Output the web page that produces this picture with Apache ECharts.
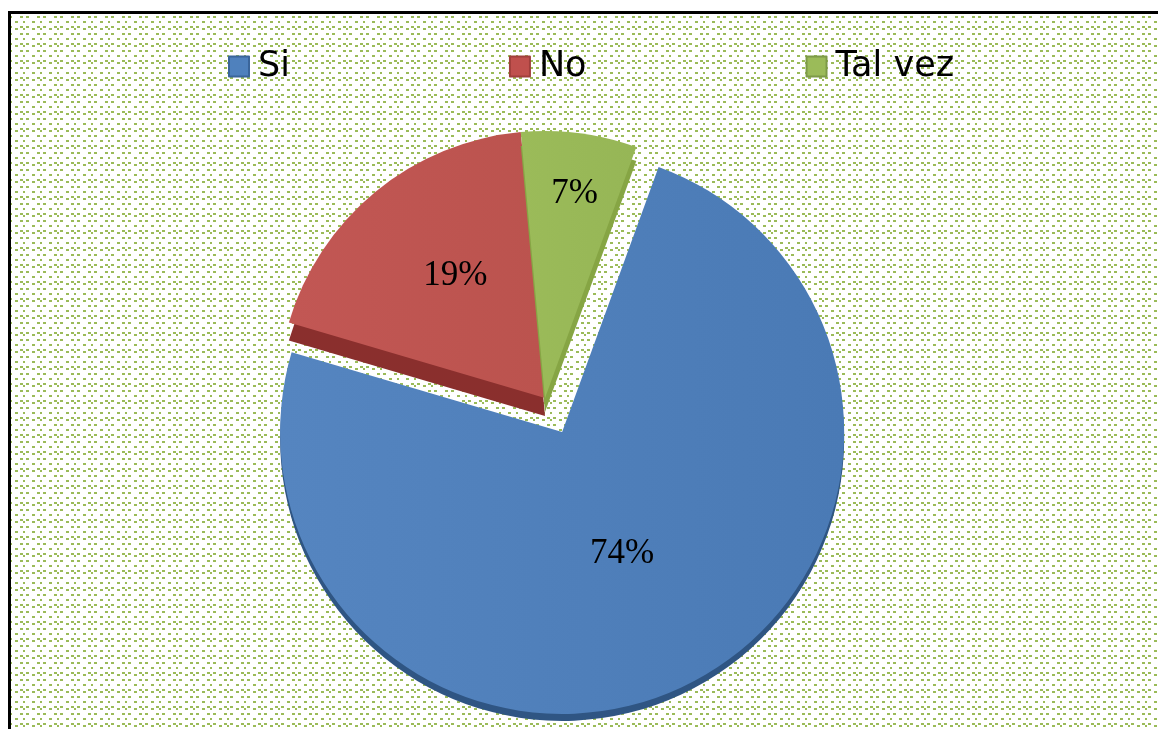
<!DOCTYPE html>
<html>
<head>
<meta charset="utf-8">
<style>
  html, body { margin: 0; padding: 0; background: #fff; }
  #frame { position: absolute; left: 8px; top: 11px; width: 1150px; height: 718px; border-left: 3px solid #000; border-top: 3px solid #000; box-sizing: border-box; }
  #main { width: 1147px; height: 715px; }
</style>
</head>
<body>
<div id="frame"><div id="main"></div></div>
<script src="https://cdn.jsdelivr.net/npm/echarts@6/dist/echarts.min.js"></script>
<script>
const categories = ['Si', 'No', 'Tal vez']
const values = [74, 19, 7]
const colors = ['#4f81bd', '#c0504d', '#9bbb59']
const legendBorders = ['#3a659a', '#a03f3c', '#7d9a48']
const gradients = [['#5585c0', '#4a7ab5'], ['#c25754', '#bb534e'], ['#9bbb59', '#96b656']]
const sideColors = ['#2f5583', '#8a2f2d', '#86a544']

// dotted paper behind the chart
function dotTile () {
  let tile = document.createElement('canvas')
  tile.width = 17
  tile.height = 17
  let ctx = tile.getContext('2d')
  ctx.fillStyle = '#fff'
  ctx.fillRect(0, 0, 17, 17)
  ctx.fillStyle = '#9bbb59'
  ctx.fillRect(9, 2, 3, 2)
  ctx.fillRect(15, 2, 2, 2)
  ctx.fillRect(0, 2, 1, 2)
  ctx.fillRect(4, 7, 3, 2)
  ctx.fillRect(12, 7, 2, 2)
  ctx.fillRect(9, 12, 3, 2)
  ctx.fillRect(15, 12, 2, 2)
  ctx.fillRect(0, 12, 1, 2)
  ctx.fillRect(4, 14, 3, 2)
  ctx.fillRect(12, 14, 2, 2)
  return tile
}

function sliceStyle (i, sideY) {
  return {
    color: new echarts.graphic.LinearGradient(0, 0, 1, 0, [
      {offset: 0, color: gradients[i][0]},
      {offset: 1, color: gradients[i][1]}
    ]),
    shadowColor: sideColors[i],
    shadowBlur: 0,
    shadowOffsetY: sideY
  }
}

function percentLabel (p) {
  return p.value + '%'
}

const labelStyle = {position: 'inside', fontFamily: 'Liberation Serif', fontSize: 35, color: '#000', formatter: percentLabel}

const hidden = {
  itemStyle: {color: 'transparent'},
  label: {show: false},
  labelLine: {show: false},
  emphasis: {disabled: true}
}

let chart = echarts.init(document.getElementById('main'))

chart.setOption({
  animation: false,
  backgroundColor: {image: dotTile(), repeat: 'repeat'},
  legend: {
    left: 212,
    top: 30,
    itemWidth: 20,
    itemHeight: 20,
    itemGap: 219,
    icon: 'rect',
    selectedMode: false,
    textStyle: {fontFamily: 'DejaVu Sans', fontSize: 35, color: '#000', padding: [0, 0, 0, 4]},
    data: categories.map(function (name, i) {
      return {name: name, itemStyle: {color: colors[i], borderColor: legendBorders[i], borderWidth: 2}}
    })
  },
  series: [
    {
      type: 'pie',
      center: [534, 384],
      radius: 282,
      startAngle: 70,
      selectedMode: 'single',
      selectedOffset: 38,
      label: labelStyle,
      labelLine: {show: false},
      emphasis: {disabled: true},
      labelLayout: {dx: -5, dy: -7},
      data: [
        {name: categories[0], value: values[0], selected: true, itemStyle: sliceStyle(0, 7)},
        Object.assign({name: '', value: values[1] + values[2]}, hidden)
      ]
    },
    {
      type: 'pie',
      center: [534, 384],
      radius: 267,
      startAngle: 70,
      label: labelStyle,
      labelLine: {show: false},
      emphasis: {disabled: true},
      labelLayout: function (p) {
        return p.dataIndex === 1 ? {dx: -3, dy: -17} : {dx: 12, dy: -69}
      },
      data: [
        Object.assign({name: '', value: values[0]}, hidden),
        {name: categories[1], value: values[1], itemStyle: sliceStyle(1, 18)},
        {name: categories[2], value: values[2], itemStyle: sliceStyle(2, 14)}
      ]
    }
  ]
})
</script>
</body>
</html>
